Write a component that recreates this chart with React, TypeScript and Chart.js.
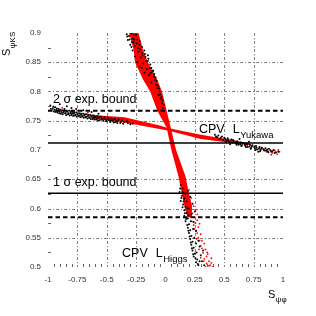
import React, { useEffect, useRef } from "react";
import { Chart, registerables } from "chart.js";

Chart.register(...registerables);

const FONT = "'Liberation Sans', Arial, Helvetica, sans-serif";

// axis ticks / grid
const X_TICKS = [-1, -0.75, -0.5, -0.25, 0, 0.25, 0.5, 0.75, 1];
const Y_TICKS = [0.5, 0.55, 0.6, 0.65, 0.7, 0.75, 0.8, 0.85, 0.9];
const GRID_X = [-0.75, -0.5, -0.25, 0.25, 0.5, 0.75];
const GRID_Y = [0.55, 0.6, 0.65, 0.75, 0.8, 0.85];
const MINOR_X = [-0.95, -0.9, -0.85, -0.8, -0.7, -0.65, -0.6, -0.55, -0.45, -0.4, -0.35, -0.3, -0.2, -0.15, -0.1, -0.05,
  0.05, 0.1, 0.15, 0.2, 0.3, 0.35, 0.4, 0.45, 0.55, 0.6, 0.65, 0.7, 0.8, 0.85, 0.9, 0.95];
const MINOR_Y = [0.525, 0.575, 0.625, 0.675, 0.725, 0.775, 0.825, 0.875];

// experimental bounds
const BOUND_1SIGMA = [0.712, 0.626];
const BOUND_2SIGMA = [0.767, 0.585];

// dense red cores (outline of the band)
const HIGGS_CORE: number[][] = [
  [-0.31, 0.9], [-0.27, 0.87], [-0.26, 0.85], [-0.19, 0.82], [-0.13, 0.8], [-0.07, 0.767], [0.01, 0.738],
  [0.05, 0.7], [0.11, 0.655], [0.14, 0.625], [0.165, 0.6], [0.19, 0.585],
  [0.22, 0.585], [0.225, 0.605], [0.2, 0.625], [0.17, 0.655], [0.09, 0.7], [0.045, 0.738], [0.01, 0.767],
  [-0.03, 0.8], [-0.07, 0.82], [-0.15, 0.85], [-0.19, 0.87], [-0.23, 0.9], [-0.31, 0.9],
];
const YUKAWA_CORE: number[][] = [
  [-0.62, 0.76], [-0.35, 0.756], [-0.05, 0.742], [0.03, 0.737], [0.3, 0.726], [0.57, 0.717], [0.72, 0.711],
  [0.72, 0.708], [0.57, 0.712], [0.3, 0.719], [0.03, 0.733], [-0.05, 0.736], [-0.35, 0.747], [-0.62, 0.754],
  [-0.62, 0.76],
];

// scattered points
const YUKAWA_LEFT_BLACK: number[][] = [
  [-0.98, 0.776], [-0.96, 0.771], [-0.95, 0.766], [-0.94, 0.773], [-0.93, 0.768], [-0.92, 0.764], [-0.91, 0.77],
  [-0.9, 0.766], [-0.89, 0.762], [-0.88, 0.768], [-0.87, 0.764], [-0.86, 0.77], [-0.85, 0.763], [-0.84, 0.766],
  [-0.83, 0.761], [-0.82, 0.767], [-0.81, 0.763], [-0.8, 0.76], [-0.79, 0.765], [-0.78, 0.762], [-0.77, 0.759],
  [-0.76, 0.764], [-0.75, 0.761], [-0.74, 0.758], [-0.73, 0.763], [-0.72, 0.76], [-0.71, 0.757], [-0.7, 0.762],
  [-0.69, 0.759], [-0.68, 0.756], [-0.67, 0.761], [-0.66, 0.758], [-0.65, 0.755], [-0.64, 0.76], [-0.63, 0.757],
  [-0.62, 0.753], [-0.61, 0.759], [-0.6, 0.756], [-0.59, 0.752], [-0.58, 0.758], [-0.57, 0.755], [-0.56, 0.751],
  [-0.55, 0.757], [-0.54, 0.753], [-0.53, 0.75], [-0.52, 0.756], [-0.51, 0.752], [-0.5, 0.749], [-0.49, 0.755],
  [-0.48, 0.751], [-0.47, 0.748], [-0.46, 0.754], [-0.45, 0.75], [-0.44, 0.747], [-0.43, 0.753], [-0.42, 0.749],
  [-0.41, 0.746], [-0.4, 0.752], [-0.38, 0.748], [-0.36, 0.745], [-0.33, 0.749], [-0.3, 0.744], [-0.9, 0.778],
  [-0.84, 0.775], [-0.8, 0.772], [-0.76, 0.77], [-0.7, 0.768], [-0.63, 0.765], [-0.57, 0.762],
  [-0.975, 0.77], [-0.955, 0.774], [-0.945, 0.769], [-0.935, 0.765], [-0.925, 0.771], [-0.915, 0.767],
  [-0.905, 0.763], [-0.895, 0.769], [-0.885, 0.765], [-0.875, 0.761], [-0.865, 0.767], [-0.855, 0.763],
  [-0.845, 0.76], [-0.835, 0.766], [-0.825, 0.763], [-0.815, 0.759], [-0.805, 0.765], [-0.795, 0.762],
  [-0.785, 0.758], [-0.775, 0.764], [-0.765, 0.76], [-0.755, 0.757], [-0.745, 0.763], [-0.735, 0.759],
  [-0.725, 0.756], [-0.715, 0.762], [-0.705, 0.758], [-0.695, 0.755], [-0.685, 0.761], [-0.675, 0.757],
  [-0.665, 0.754], [-0.655, 0.76], [-0.645, 0.756], [-0.635, 0.753], [-0.625, 0.759], [-0.615, 0.755],
  [-0.605, 0.752], [-0.595, 0.757], [-0.585, 0.754], [-0.575, 0.751], [-0.565, 0.756], [-0.545, 0.752],
  [-0.525, 0.754], [-0.505, 0.751], [-0.485, 0.753], [-0.465, 0.75], [-0.445, 0.752], [-0.425, 0.748],
  [-0.405, 0.75], [-0.385, 0.746], [-0.37, 0.751], [-0.35, 0.748], [-0.32, 0.746], [-0.28, 0.745],
];
const YUKAWA_LEFT_RED: number[][] = [[-0.88, 0.772], [-0.75, 0.767], [-0.66, 0.764]];
const YUKAWA_RIGHT_BLACK: number[][] = [
  [0.42, 0.726], [0.44, 0.722], [0.45, 0.725], [0.46, 0.719], [0.48, 0.723], [0.49, 0.717], [0.5, 0.721],
  [0.52, 0.716], [0.53, 0.72], [0.54, 0.714], [0.56, 0.718], [0.57, 0.713], [0.58, 0.716], [0.6, 0.711],
  [0.61, 0.715], [0.62, 0.709], [0.64, 0.713], [0.65, 0.708], [0.66, 0.712], [0.68, 0.707], [0.69, 0.711],
  [0.7, 0.705], [0.72, 0.709], [0.73, 0.704], [0.74, 0.708], [0.76, 0.703], [0.77, 0.707], [0.78, 0.701],
  [0.8, 0.705], [0.81, 0.7], [0.82, 0.704], [0.84, 0.699], [0.85, 0.703], [0.87, 0.698], [0.88, 0.702],
  [0.9, 0.697], [0.92, 0.7], [0.94, 0.696], [0.63, 0.719], [0.55, 0.71], [0.71, 0.714], [0.79, 0.697],
  [0.43, 0.723], [0.47, 0.721], [0.51, 0.719], [0.515, 0.714], [0.535, 0.717], [0.555, 0.713], [0.575, 0.717],
  [0.595, 0.713], [0.605, 0.709], [0.615, 0.712], [0.635, 0.71], [0.645, 0.707], [0.655, 0.711], [0.675, 0.709],
  [0.685, 0.705], [0.695, 0.709], [0.715, 0.706], [0.725, 0.702], [0.735, 0.707], [0.755, 0.705], [0.765, 0.7],
  [0.775, 0.704], [0.795, 0.702], [0.805, 0.698], [0.815, 0.703], [0.835, 0.701], [0.855, 0.699], [0.865, 0.701],
  [0.875, 0.696], [0.895, 0.699], [0.91, 0.698], [0.93, 0.695], [0.96, 0.697],
];
const YUKAWA_RIGHT_RED: number[][] = [
  [0.76, 0.706], [0.83, 0.702], [0.86, 0.697], [0.89, 0.7], [0.91, 0.695], [0.93, 0.699], [0.95, 0.693],
  [0.97, 0.697], [0.96, 0.7], [0.9, 0.692],
];
const HIGGS_TOP_BLACK: number[][] = [
  [-0.33, 0.898], [-0.31, 0.895], [-0.29, 0.899], [-0.27, 0.896], [-0.25, 0.897], [-0.32, 0.888], [-0.28, 0.89],
  [-0.24, 0.889], [-0.22, 0.886], [-0.3, 0.88], [-0.26, 0.878], [-0.22, 0.88], [-0.2, 0.876], [-0.28, 0.87],
  [-0.23, 0.868], [-0.2, 0.866], [-0.18, 0.87], [-0.26, 0.86], [-0.21, 0.858], [-0.17, 0.859], [-0.15, 0.862],
  [-0.24, 0.85], [-0.19, 0.848], [-0.15, 0.852], [-0.13, 0.846], [-0.22, 0.842], [-0.16, 0.838], [-0.12, 0.84],
  [-0.11, 0.834], [-0.14, 0.828], [-0.1, 0.826], [-0.09, 0.82], [-0.12, 0.816], [-0.08, 0.812], [-0.07, 0.806],
  [-0.05, 0.8], [-0.06, 0.794], [-0.04, 0.788], [-0.03, 0.78], [-0.02, 0.772], [-0.18, 0.832], [-0.2, 0.84],
  [-0.27, 0.884], [-0.29, 0.876],
  [-0.325, 0.894], [-0.305, 0.889], [-0.285, 0.884], [-0.265, 0.889], [-0.245, 0.882], [-0.235, 0.874],
  [-0.215, 0.872], [-0.195, 0.862], [-0.175, 0.864], [-0.165, 0.852], [-0.145, 0.856], [-0.135, 0.84],
  [-0.125, 0.832], [-0.105, 0.836], [-0.095, 0.83], [-0.085, 0.824], [-0.075, 0.818], [-0.065, 0.81],
  [-0.055, 0.805], [-0.045, 0.795], [-0.035, 0.79], [-0.025, 0.785], [-0.015, 0.777],
];
const HIGGS_LOW_BLACK: number[][] = [
  [0.13, 0.64], [0.15, 0.634], [0.12, 0.628], [0.14, 0.622], [0.16, 0.617], [0.13, 0.613], [0.15, 0.607],
  [0.17, 0.603], [0.16, 0.597], [0.18, 0.592], [0.16, 0.587], [0.19, 0.583], [0.17, 0.578], [0.2, 0.573],
  [0.19, 0.567], [0.21, 0.563], [0.2, 0.558], [0.22, 0.553], [0.21, 0.548], [0.23, 0.543], [0.22, 0.538],
  [0.24, 0.533], [0.23, 0.528], [0.25, 0.523], [0.24, 0.518], [0.27, 0.513], [0.26, 0.508], [0.28, 0.503],
  [0.3, 0.52], [0.28, 0.545], [0.31, 0.51], [0.33, 0.503], [0.26, 0.562], [0.24, 0.577], [0.22, 0.59],
  [0.2, 0.6], [0.18, 0.612], [0.21, 0.62], [0.23, 0.608], [0.25, 0.595], [0.29, 0.535], [0.32, 0.528],
  [0.125, 0.634], [0.145, 0.628], [0.135, 0.618], [0.155, 0.612], [0.145, 0.602], [0.165, 0.592], [0.175, 0.582],
  [0.185, 0.572], [0.195, 0.562], [0.205, 0.552], [0.215, 0.542], [0.225, 0.532], [0.235, 0.522], [0.255, 0.515],
  [0.265, 0.525], [0.275, 0.505], [0.29, 0.51], [0.185, 0.6], [0.195, 0.588], [0.215, 0.578], [0.235, 0.565],
  [0.245, 0.55], [0.26, 0.54], [0.17, 0.625], [0.19, 0.63],
];
const HIGGS_LOW_RED: number[][] = [
  [0.2, 0.632], [0.22, 0.618], [0.24, 0.604], [0.26, 0.598], [0.23, 0.592], [0.25, 0.585], [0.27, 0.58],
  [0.24, 0.572], [0.28, 0.568], [0.26, 0.561], [0.3, 0.556], [0.28, 0.55], [0.31, 0.545], [0.33, 0.54],
  [0.3, 0.536], [0.34, 0.53], [0.32, 0.524], [0.35, 0.518], [0.33, 0.514], [0.37, 0.51], [0.35, 0.506],
  [0.38, 0.503], [0.36, 0.522], [0.39, 0.515], [0.21, 0.605], [0.19, 0.596], [0.27, 0.59], [0.29, 0.574],
  [0.185, 0.625], [0.205, 0.615], [0.215, 0.597], [0.235, 0.585], [0.225, 0.578], [0.255, 0.575], [0.245, 0.565],
  [0.27, 0.558], [0.265, 0.548], [0.29, 0.545], [0.285, 0.53], [0.31, 0.532], [0.3, 0.516], [0.325, 0.51],
  [0.34, 0.5], [0.355, 0.525], [0.37, 0.502], [0.39, 0.507], [0.4, 0.5],
];

// text anchors (data units)
const LABEL_2SIGMA = [-0.957, 0.78];
const LABEL_1SIGMA = [-0.957, 0.638];
const LABEL_YUKAWA = [0.285, 0.729];
const LABEL_HIGGS = [-0.37, 0.517];

const pts = (a: number[][]) => a.map(([x, y]) => ({ x, y }));

const scatterSet = (data: number[][], color: string, r: number) => ({
  type: "scatter" as const,
  data: pts(data),
  backgroundColor: color,
  borderWidth: 0,
  pointRadius: r,
  order: 1,
});

const polySet = (data: number[][]) => ({
  type: "line" as const,
  data: pts(data),
  borderWidth: 0,
  borderColor: "rgba(0,0,0,0)",
  backgroundColor: "#ff0000",
  fill: "shape",
  pointRadius: 0,
  tension: 0,
  order: 2,
});

const hLine = (v: number, dashed: boolean) => ({
  type: "line" as const,
  data: [{ x: -1, y: v }, { x: 1, y: v }],
  borderColor: "#000",
  borderWidth: dashed ? 2 : 1.4,
  borderDash: dashed ? [4.5, 3] : [],
  pointRadius: 0,
  fill: false,
  order: 0,
});

const decorPlugin = {
  id: "decor",
  beforeDatasetsDraw(chart: any) {
    const { ctx, chartArea: a, scales } = chart;
    const x = scales.x, y = scales.y;
    ctx.save();
    ctx.strokeStyle = "#808080";
    ctx.lineWidth = 1;
    ctx.setLineDash([3, 2, 1, 2]);
    GRID_X.forEach((v) => {
      const px = Math.round(x.getPixelForValue(v)) + 0.5;
      ctx.beginPath(); ctx.moveTo(px, a.top); ctx.lineTo(px, a.bottom); ctx.stroke();
    });
    GRID_Y.forEach((v) => {
      const py = Math.round(y.getPixelForValue(v)) + 0.5;
      ctx.beginPath(); ctx.moveTo(a.left, py); ctx.lineTo(a.right, py); ctx.stroke();
    });
    ctx.setLineDash([]);
    ctx.strokeStyle = "#666";
    MINOR_X.forEach((v) => {
      const px = Math.round(x.getPixelForValue(v)) + 0.5;
      ctx.beginPath(); ctx.moveTo(px, a.bottom); ctx.lineTo(px, a.bottom - 3); ctx.stroke();
    });
    MINOR_Y.forEach((v) => {
      const py = Math.round(y.getPixelForValue(v)) + 0.5;
      ctx.beginPath(); ctx.moveTo(a.left, py); ctx.lineTo(a.left + 3, py); ctx.stroke();
    });
    ctx.restore();
  },
  afterDraw(chart: any) {
    const { ctx, chartArea: a, scales } = chart;
    const x = scales.x, y = scales.y;
    ctx.save();
    ctx.fillStyle = "#000";
    ctx.textAlign = "left";
    ctx.textBaseline = "alphabetic";
    ctx.font = `12.5px ${FONT}`;
    ctx.fillText("2 \u03c3 exp. bound", x.getPixelForValue(LABEL_2SIGMA[0]), y.getPixelForValue(LABEL_2SIGMA[1]));
    ctx.fillText("1 \u03c3 exp. bound", x.getPixelForValue(LABEL_1SIGMA[0]), y.getPixelForValue(LABEL_1SIGMA[1]));

    const subLabel = (anchor: number[], sub: string) => {
      const px = x.getPixelForValue(anchor[0]);
      const py = y.getPixelForValue(anchor[1]);
      ctx.font = `12.5px ${FONT}`;
      ctx.fillText("CPV", px, py);
      const lx = px + ctx.measureText("CPV").width + 8;
      ctx.fillText("L", lx, py);
      const lw = ctx.measureText("L").width;
      ctx.font = `9.5px ${FONT}`;
      ctx.fillText(sub, lx + lw + 0.5, py + 4.5);
    };
    subLabel(LABEL_YUKAWA, "Yukawa");
    subLabel(LABEL_HIGGS, "Higgs");

    // y title (rotated)
    ctx.save();
    ctx.translate(a.left - 38, a.top + 23);
    ctx.rotate(-Math.PI / 2);
    ctx.font = `11px ${FONT}`;
    ctx.fillText("S", 0, 0);
    const sw = ctx.measureText("S").width;
    ctx.font = `8px ${FONT}`;
    ctx.fillText("\u03c8KS", sw + 0.5, 4.5);
    ctx.restore();

    // x title
    ctx.font = `11px ${FONT}`;
    const tx = a.right - 15, ty = a.bottom + 31;
    ctx.fillText("S", tx, ty);
    const sw2 = ctx.measureText("S").width;
    ctx.font = `8px ${FONT}`;
    ctx.fillText("\u03c8\u03c6", tx + sw2 + 0.5, ty + 3.5);
    ctx.restore();
  },
};

const fmt = (v: any) => String(Number(Number(v).toFixed(2)));

export default function App() {
  const ref = useRef<HTMLCanvasElement>(null);
  useEffect(() => {
    if (!ref.current) return;
    const chart = new Chart(ref.current, {
      type: "scatter",
      data: {
        datasets: [
          hLine(BOUND_2SIGMA[0], true),
          hLine(BOUND_2SIGMA[1], true),
          hLine(BOUND_1SIGMA[0], false),
          hLine(BOUND_1SIGMA[1], false),
          scatterSet(YUKAWA_LEFT_BLACK, "#000", 1),
          scatterSet(YUKAWA_RIGHT_BLACK, "#000", 1),
          scatterSet(HIGGS_TOP_BLACK, "#000", 1),
          scatterSet(HIGGS_LOW_BLACK, "#000", 1),
          scatterSet(HIGGS_LOW_RED, "#ff0000", 0.9),
          scatterSet(YUKAWA_RIGHT_RED, "#ff0000", 0.9),
          scatterSet(YUKAWA_LEFT_RED, "#ff0000", 0.9),
          polySet(HIGGS_CORE),
          polySet(YUKAWA_CORE),
        ] as any,
      },
      options: {
        responsive: false,
        animation: false,
        events: [],
        layout: { padding: { left: 8, right: 33, top: 33, bottom: 25 } },
        plugins: { legend: { display: false }, tooltip: { enabled: false } },
        scales: {
          x: {
            type: "linear",
            min: -1,
            max: 1,
            afterBuildTicks: (s: any) => { s.ticks = X_TICKS.map((v) => ({ value: v })); },
            afterFit: (s: any) => { s.height = 24; },
            grid: { display: false, drawTicks: false },
            border: { display: false },
            ticks: { font: { family: FONT, size: 8 }, color: "#333", padding: 8, maxRotation: 0, autoSkip: false, callback: fmt },
          },
          y: {
            type: "linear",
            min: 0.5,
            max: 0.9,
            afterBuildTicks: (s: any) => { s.ticks = Y_TICKS.map((v) => ({ value: v })); },
            afterFit: (s: any) => { s.width = 40; },
            grid: { display: false, drawTicks: false },
            border: { display: false },
            ticks: { font: { family: FONT, size: 8 }, color: "#333", padding: 7, autoSkip: false, callback: fmt },
          },
        },
      } as any,
      plugins: [decorPlugin],
    });
    return () => chart.destroy();
  }, []);
  return (
    <div style={{ position: "absolute", left: 0, top: 0, width: 316, height: 316, background: "#fff" }}>
      <canvas ref={ref} width={316} height={316} style={{ display: "block" }} />
    </div>
  );
}
